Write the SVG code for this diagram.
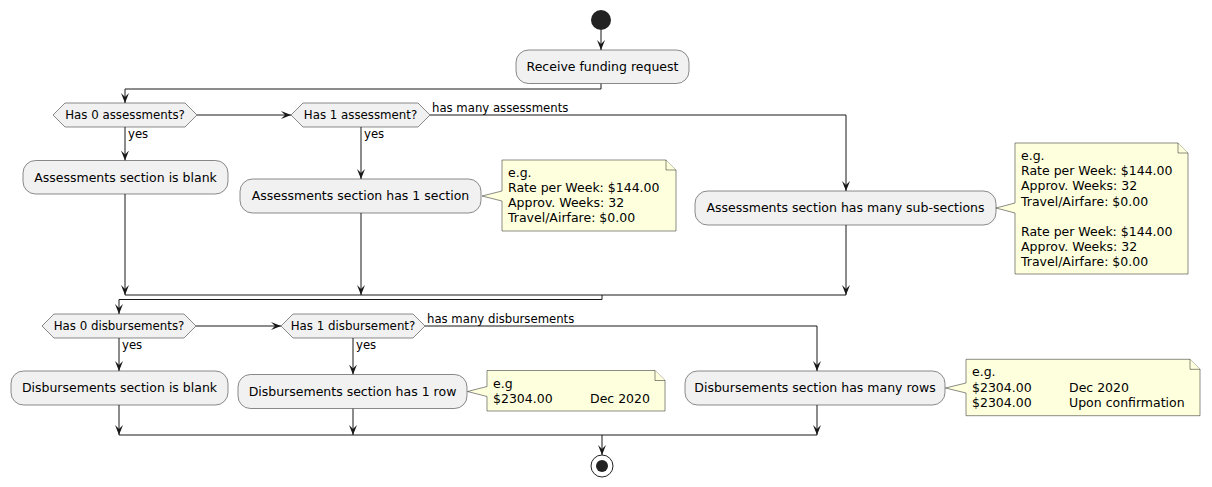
<svg xmlns="http://www.w3.org/2000/svg" width="1212" height="487" viewBox="0 0 1212 487">
<style>
.box{fill:#F1F1F1;stroke:#181818;stroke-width:0.5}
.note{fill:#FEFFDD;stroke:#181818;stroke-width:0.5}
.ln{fill:none;stroke:#181818;stroke-width:1}
.arr{fill:none;stroke:#181818;stroke-width:1;marker-end:url(#ah)}
.t{font-family:"DejaVu Sans",sans-serif;font-size:12.5px;fill:#000}
.c{text-anchor:middle}
.d{font-family:"DejaVu Sans",sans-serif;font-size:11.8px;fill:#000;text-anchor:middle}
.l{font-family:"DejaVu Sans",sans-serif;font-size:11.7px;fill:#000}
.n{font-family:"DejaVu Sans",sans-serif;font-size:12.5px;fill:#000}
</style>
<defs>
<marker id="ah" markerUnits="userSpaceOnUse" markerWidth="10" markerHeight="8" refX="10" refY="4" orient="auto" viewBox="0 0 10 8">
<path d="M0,0 L10,4 L0,8 L4,4 Z" fill="#181818"/>
</marker>
</defs>
<g id="connectors">
<line class="arr" x1="601" y1="30" x2="601" y2="50"/>
<polyline class="arr" points="601,83.5 601,89 125,89 125,103"/>
<line class="arr" x1="197" y1="115" x2="291" y2="115"/>
<polyline class="arr" points="430,115 846,115 846,191"/>
<text class="l" x="432" y="112">has many assessments</text>
<line class="arr" x1="125" y1="127" x2="125" y2="160.5"/>
<text class="l" x="128" y="138">yes</text>
<line class="arr" x1="361" y1="127" x2="361" y2="179"/>
<text class="l" x="364" y="138">yes</text>
<line class="arr" x1="125" y1="194" x2="125" y2="295"/>
<line class="arr" x1="361" y1="213" x2="361" y2="295"/>
<line class="arr" x1="846" y1="225" x2="846" y2="295"/>
<line class="ln" x1="125" y1="295" x2="846" y2="295"/>
<polyline class="arr" points="602,295 602,299.5 119,299.5 119,314"/>
<line class="arr" x1="196" y1="326" x2="281" y2="326"/>
<polyline class="arr" points="425,326 817,326 817,371"/>
<text class="l" x="427" y="323">has many disbursements</text>
<line class="arr" x1="119" y1="338" x2="119" y2="371"/>
<text class="l" x="122" y="349">yes</text>
<line class="arr" x1="353" y1="338" x2="353" y2="374.5"/>
<text class="l" x="356" y="349">yes</text>
<line class="arr" x1="119" y1="405" x2="119" y2="435"/>
<line class="arr" x1="353" y1="408.5" x2="353" y2="435"/>
<line class="arr" x1="817" y1="405" x2="817" y2="435"/>
<line class="ln" x1="119" y1="435" x2="817" y2="435"/>
<line class="arr" x1="602" y1="435" x2="602" y2="455"/>
</g>
<g id="start"><circle cx="601" cy="20" r="10" fill="#222222"/></g>
<g id="receive">
<rect class="box" x="516" y="50" width="173" height="33.5" rx="12.5"/>
<text class="t c" x="602.5" y="71">Receive funding request</text>
</g>
<g id="dec1">
<polygon class="box" points="53,115 65,103 185,103 197,115 185,127 65,127"/>
<text class="d" x="125" y="119">Has 0 assessments?</text>
</g>
<g id="dec2">
<polygon class="box" points="291,115 303,103 418,103 430,115 418,127 303,127"/>
<text class="d" x="360.5" y="119">Has 1 assessment?</text>
</g>
<g id="a0">
<rect class="box" x="23" y="160.5" width="205" height="33.5" rx="12.5"/>
<text class="t c" x="125.5" y="181.5">Assessments section is blank</text>
</g>
<g id="a1">
<rect class="box" x="240" y="179" width="241" height="34" rx="12.5"/>
<text class="t c" x="360.5" y="200">Assessments section has 1 section</text>
</g>
<g id="note1">
<path class="note" d="M502,160 L666,160 L676,170 L676,231 L502,231 L502,201 L482,196 L502,191 Z"/>
<path class="note" d="M666,160 L666,170 L676,170"/>
<text class="n" x="508" y="177">e.g.</text>
<text class="n" x="508" y="192.1">Rate per Week: $144.00</text>
<text class="n" x="508" y="207.3">Approv. Weeks: 32</text>
<text class="n" x="508" y="222.4">Travel/Airfare: $0.00</text>
</g>
<g id="amany">
<rect class="box" x="695" y="191" width="301" height="34" rx="12.5"/>
<text class="t c" x="845.5" y="212">Assessments section has many sub-sections</text>
</g>
<g id="note2">
<path class="note" d="M1015,143 L1178,143 L1188,153 L1188,274 L1015,274 L1015,213 L996,208 L1015,203 Z"/>
<path class="note" d="M1178,143 L1178,153 L1188,153"/>
<text class="n" x="1021" y="160.1">e.g.</text>
<text class="n" x="1021" y="175.2">Rate per Week: $144.00</text>
<text class="n" x="1021" y="190.4">Approv. Weeks: 32</text>
<text class="n" x="1021" y="205.5">Travel/Airfare: $0.00</text>
<text class="n" x="1021" y="235.7">Rate per Week: $144.00</text>
<text class="n" x="1021" y="250.9">Approv. Weeks: 32</text>
<text class="n" x="1021" y="266">Travel/Airfare: $0.00</text>
</g>
<g id="dec3">
<polygon class="box" points="42,326 54,314 184,314 196,326 184,338 54,338"/>
<text class="d" x="119" y="330">Has 0 disbursements?</text>
</g>
<g id="dec4">
<polygon class="box" points="281,326 293,314 413,314 425,326 413,338 293,338"/>
<text class="d" x="353" y="330">Has 1 disbursement?</text>
</g>
<g id="d0">
<rect class="box" x="11" y="371" width="217" height="34" rx="12.5"/>
<text class="t c" x="119.5" y="392">Disbursements section is blank</text>
</g>
<g id="d1">
<rect class="box" x="238" y="374.5" width="229" height="34" rx="12.5"/>
<text class="t c" x="352.5" y="395.5">Disbursements section has 1 row</text>
</g>
<g id="note3">
<path class="note" d="M487,370.5 L655,370.5 L665,380.5 L665,411 L487,411 L487,396.5 L467.5,391.5 L487,386.5 Z"/>
<path class="note" d="M655,370.5 L655,380.5 L665,380.5"/>
<text class="n" x="493" y="387.6">e.g</text>
<text class="n" x="493" y="402.7">$2304.00</text>
<text class="n" x="590" y="402.7">Dec 2020</text>
</g>
<g id="dmany">
<rect class="box" x="685" y="371" width="260" height="34" rx="12.5"/>
<text class="t c" x="815" y="392">Disbursements section has many rows</text>
</g>
<g id="note4">
<path class="note" d="M966,359.3 L1190,359.3 L1200,369.3 L1200,415.7 L966,415.7 L966,393 L945.5,388 L966,383 Z"/>
<path class="note" d="M1190,359.3 L1190,369.3 L1200,369.3"/>
<text class="n" x="972" y="376.4">e.g.</text>
<text class="n" x="972" y="391.5">$2304.00</text>
<text class="n" x="1069" y="391.5">Dec 2020</text>
<text class="n" x="972" y="406.7">$2304.00</text>
<text class="n" x="1069" y="406.7">Upon confirmation</text>
</g>
<g id="end">
<circle cx="602" cy="466" r="11" fill="none" stroke="#222222" stroke-width="1"/>
<circle cx="602" cy="466" r="6" fill="#222222"/>
</g>
</svg>
